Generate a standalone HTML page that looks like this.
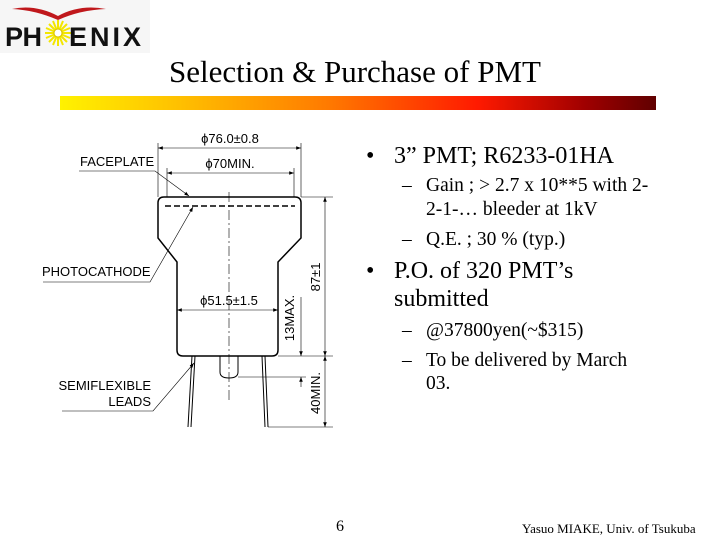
<!DOCTYPE html>
<html><head><meta charset="utf-8"><style>
body{margin:0;width:720px;height:540px;background:#fff;position:relative;overflow:hidden;font-family:"Liberation Serif",serif}
.t{position:absolute;white-space:nowrap}
</style></head><body>
<div style="position:absolute;left:0;top:0;width:150px;height:53px;background:#f6f6f6"></div>
<svg style="position:absolute;left:0;top:0" width="160" height="60">
<path d="M12 9 Q35 4 58 16 Q80 4 106 9 Q80 10 58 20 Q35 10 12 9Z" fill="#c0181c"/>
<g stroke="#f3e600" stroke-width="2">
<line x1="58" y1="20" x2="58" y2="46"/><line x1="45" y1="33" x2="71" y2="33"/>
<line x1="49" y1="24" x2="67" y2="42"/><line x1="67" y1="24" x2="49" y2="42"/>
<line x1="53" y1="21" x2="63" y2="45"/><line x1="63" y1="21" x2="53" y2="45"/>
<line x1="46" y1="28" x2="70" y2="38"/><line x1="70" y1="28" x2="46" y2="38"/></g>
<circle cx="58" cy="33" r="4" fill="#fff" stroke="#d8c000"/>
<text x="5" y="46" font-family="Liberation Sans" font-weight="bold" font-size="27" fill="#111" textLength="37">PH</text>
<text x="69" y="46" font-family="Liberation Sans" font-weight="bold" font-size="27" fill="#111" textLength="72">ENIX</text>
</svg>
<div class="t" style="left:169px;top:54px;font-size:31px;color:#000">Selection &amp; Purchase of PMT</div>
<div style="position:absolute;left:60px;top:96px;width:596px;height:14px;background:linear-gradient(90deg,#fff200,#ffc000 20%,#ff7a00 45%,#ff1a00 70%,#a00000 88%,#600000)"></div>

<svg style="position:absolute;left:0;top:0" width="720" height="540" font-family="Liberation Sans" font-size="13">
<defs><marker id="a" markerWidth="8" markerHeight="6" refX="8" refY="3" orient="auto-start-reverse"><path d="M0 0L8 3L0 6Z" fill="#000"/></marker></defs>
<g fill="none" stroke="#000" stroke-width="1">
<path d="M164 197H295Q301 197 301 203V238L278 262V350Q278 356 272 356H183Q177 356 177 350V262L158 238V203Q158 197 164 197Z" stroke-width="1.5"/>
<line x1="165" y1="206" x2="295" y2="206" stroke-dasharray="6,3" stroke-width="1.5"/>
<line x1="229" y1="192" x2="229" y2="400" stroke-dasharray="10,3,2,3" stroke-width="0.6"/>
<path d="M220 356V372Q220 378 229 378Q238 378 238 372V356"/>
<path d="M192 356L188 427M195 356L191 427M262 356L265 427M265 356L268 427"/>
<path d="M158 143V197M301 143V197M167 168V197M294 168V197" stroke-width="0.6"/>
<line x1="158" y1="148" x2="301" y2="148" marker-start="url(#a)" marker-end="url(#a)" stroke-width="0.6"/>
<line x1="167" y1="173" x2="294" y2="173" marker-start="url(#a)" marker-end="url(#a)" stroke-width="0.6"/>
<line x1="177" y1="310" x2="278" y2="310" marker-start="url(#a)" marker-end="url(#a)" stroke-width="0.6"/>
<path d="M301 197H333M278 356H333M238 377H306M268 427H333" stroke-width="0.6"/>
<line x1="325" y1="197" x2="325" y2="356" marker-start="url(#a)" marker-end="url(#a)" stroke-width="0.6"/>
<line x1="325" y1="356" x2="325" y2="427" marker-start="url(#a)" marker-end="url(#a)" stroke-width="0.6"/>
<line x1="301" y1="297" x2="301" y2="356" marker-end="url(#a)" stroke-width="0.6"/>
<line x1="301" y1="387" x2="301" y2="377" marker-end="url(#a)" stroke-width="0.6"/>
<polyline points="79,171 155,171 189,196" marker-end="url(#a)" stroke-width="0.6"/>
<polyline points="43,282 150,282 193,207" marker-end="url(#a)" stroke-width="0.6"/>
<polyline points="62,411 153,411 194,363" marker-end="url(#a)" stroke-width="0.6"/>
</g>
<g fill="#000">
<text x="230" y="143" text-anchor="middle">ϕ76.0±0.8</text>
<text x="230" y="168" text-anchor="middle">ϕ70MIN.</text>
<text x="229" y="305" text-anchor="middle">ϕ51.5±1.5</text>
<text x="80" y="166">FACEPLATE</text>
<text x="42" y="276">PHOTOCATHODE</text>
<text x="151" y="390" text-anchor="end">SEMIFLEXIBLE</text>
<text x="151" y="406" text-anchor="end">LEADS</text>
<text transform="translate(320,277) rotate(-90)" text-anchor="middle">87±1</text>
<text transform="translate(294,318) rotate(-90)" text-anchor="middle">13MAX.</text>
<text transform="translate(320,393) rotate(-90)" text-anchor="middle">40MIN.</text>
</g>
</svg>

<div style="position:absolute;left:0;top:0;font-size:24px;color:#000">
<div class="t" style="left:366px;top:143px">•</div><div class="t" style="left:394px;top:143px">3” PMT; R6233-01HA</div>
<div class="t" style="left:366px;top:258px">•</div><div class="t" style="left:394px;top:258px">P.O. of 320 PMT’s</div>
<div class="t" style="left:394px;top:286px">submitted</div>
</div>
<div style="position:absolute;left:0;top:0;font-size:19.5px;color:#000">
<div class="t" style="left:402px;top:175px">–</div><div class="t" style="left:426px;top:175px">Gain ; &gt; 2.7 x 10**5 with 2-</div>
<div class="t" style="left:426px;top:199px">2-1-… bleeder at 1kV</div>
<div class="t" style="left:402px;top:229px">–</div><div class="t" style="left:426px;top:229px">Q.E. ; 30 % (typ.)</div>
<div class="t" style="left:402px;top:320px">–</div><div class="t" style="left:426px;top:320px">@37800yen(~$315)</div>
<div class="t" style="left:402px;top:350px">–</div><div class="t" style="left:426px;top:350px">To be delivered by March</div>
<div class="t" style="left:426px;top:373px">03.</div>
</div>
<div class="t" style="left:336px;top:518px;font-size:16px">6</div>
<div class="t" style="left:522px;top:521px;font-size:13px">Yasuo MIAKE, Univ. of Tsukuba</div>
</body></html>
